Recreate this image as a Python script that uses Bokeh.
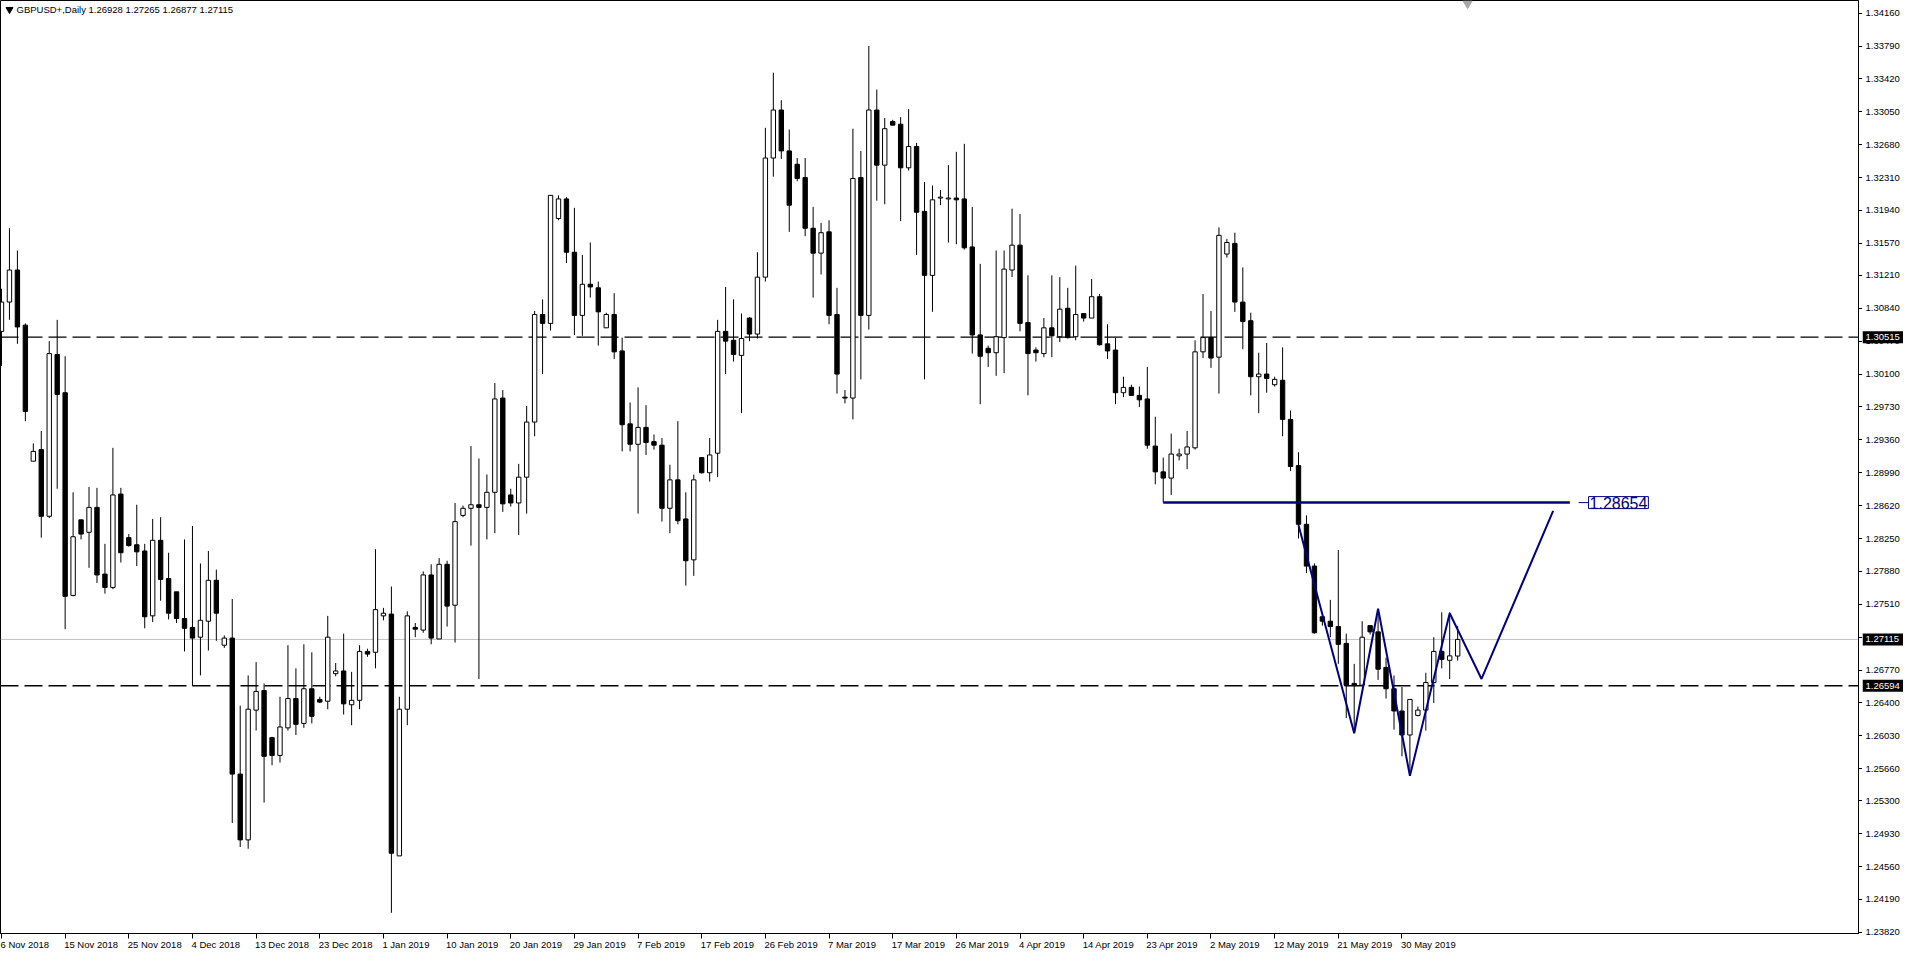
from bokeh.plotting import figure
from bokeh.layouts import row
from bokeh.models import (Range1d, FixedTicker, Label, ColumnDataSource, Span, LinearAxis)
from bokeh.embed import file_html
from bokeh.resources import INLINE
from bokeh.core.properties import value

# ---------------- data ----------------
title_text = "GBPUSD+,Daily  1.26928 1.27265 1.26877 1.27115"

opens = [1.3058, 1.3091, 1.3127, 1.3065, 1.2912, 1.2925, 1.2850, 1.3032, 1.2989, 1.2761,
         1.2846, 1.2832, 1.2860, 1.2785, 1.2770, 1.2875, 1.2826, 1.2818, 1.2811, 1.2738,
         1.2823, 1.2780, 1.2765, 1.2735, 1.2725, 1.2714, 1.2732, 1.2778, 1.2705, 1.2713,
         1.2560, 1.2486, 1.2632, 1.2654, 1.2601, 1.2581, 1.2612, 1.2645, 1.2617, 1.2656,
         1.2644, 1.2642, 1.2673, 1.2676, 1.2638, 1.2643, 1.2698, 1.2697, 1.2738, 1.2740,
         1.2468, 1.2633, 1.2725, 1.2722, 1.2784, 1.2712, 1.2796, 1.2750, 1.2851, 1.2859,
         1.2863, 1.2860, 1.2877, 1.2983, 1.2874, 1.2865, 1.2894, 1.2956, 1.3077, 1.3067,
         1.3185, 1.3207, 1.3147, 1.3076, 1.3111, 1.3107, 1.3062, 1.3077, 1.3036, 1.2954,
         1.2931, 1.2950, 1.2934, 1.2930, 1.2859, 1.2891, 1.2847, 1.2801, 1.2916, 1.2899,
         1.2921, 1.3058, 1.3048, 1.3031, 1.3073, 1.3055, 1.3119, 1.3253, 1.3307, 1.3261,
         1.3246, 1.3231, 1.3174, 1.3146, 1.3170, 1.3077, 1.2984, 1.2983, 1.3231, 1.3076,
         1.3307, 1.3245, 1.3294, 1.3291, 1.3242, 1.3266, 1.3193, 1.3121, 1.3208, 1.3207,
         1.3208, 1.3207, 1.3153, 1.3054, 1.3039, 1.3034, 1.3051, 1.3127, 1.3155, 1.3068,
         1.3037, 1.3033, 1.3062, 1.3052, 1.3084, 1.3052, 1.3078, 1.3073, 1.3097, 1.3044,
         1.3037, 1.2989, 1.2995, 1.2986, 1.2982, 1.2929, 1.2900, 1.2893, 1.2918, 1.2920,
         1.2927, 1.3035, 1.3051, 1.3029, 1.3145, 1.3157, 1.3091, 1.3070, 1.3007, 1.3010,
         1.2998, 1.3003, 1.2959, 1.2907, 1.2841, 1.2794, 1.2737, 1.2732, 1.2726, 1.2707,
         1.2662, 1.2660, 1.2727, 1.2720, 1.2680, 1.2656, 1.2631, 1.2604, 1.2626, 1.2632,
         1.2663, 1.2698, 1.2688, 1.26928]

highs = [1.3106, 1.3174, 1.3149, 1.3067, 1.2932, 1.2946, 1.3047, 1.3071, 1.3030, 1.2877,
         1.2846, 1.2883, 1.2882, 1.2819, 1.2927, 1.2882, 1.2830, 1.2863, 1.2819, 1.2847,
         1.2849, 1.2809, 1.2765, 1.2824, 1.2839, 1.2797, 1.2811, 1.2790, 1.2716, 1.2757,
         1.2637, 1.2671, 1.2686, 1.2662, 1.2602, 1.2647, 1.2705, 1.2679, 1.2706, 1.2697,
         1.2647, 1.2738, 1.2685, 1.2718, 1.2675, 1.2705, 1.2701, 1.2813, 1.2747, 1.2771,
         1.2647, 1.2743, 1.2730, 1.2788, 1.2796, 1.2803, 1.2800, 1.2865, 1.2862, 1.2929,
         1.2915, 1.2897, 1.3000, 1.2992, 1.2881, 1.2909, 1.2974, 1.3081, 1.3094, 1.3211,
         1.3211, 1.3209, 1.3197, 1.3144, 1.3158, 1.3114, 1.3079, 1.3101, 1.3051, 1.2978,
         1.2995, 1.2975, 1.2942, 1.2938, 1.2908, 1.2957, 1.2877, 1.2897, 1.2916, 1.2938,
         1.3071, 1.3108, 1.3094, 1.3078, 1.3074, 1.3147, 1.3287, 1.3349, 1.3318, 1.3285,
         1.3253, 1.3253, 1.3198, 1.3180, 1.3183, 1.3107, 1.2992, 1.3286, 1.3261, 1.3379,
         1.3330, 1.3298, 1.3296, 1.3299, 1.3308, 1.3270, 1.3226, 1.3222, 1.3217, 1.3245,
         1.3260, 1.3269, 1.3198, 1.3134, 1.3042, 1.3149, 1.3149, 1.3196, 1.3190, 1.3121,
         1.3040, 1.3073, 1.3121, 1.3119, 1.3107, 1.3132, 1.3078, 1.3117, 1.3100, 1.3066,
         1.3051, 1.3007, 1.2998, 1.2996, 1.3018, 1.2962, 1.2916, 1.2943, 1.2926, 1.2946,
         1.3048, 1.3100, 1.3081, 1.3175, 1.3162, 1.3169, 1.3130, 1.3079, 1.3034, 1.3045,
         1.3007, 1.3040, 1.2969, 1.2922, 1.2851, 1.2797, 1.2737, 1.2756, 1.2812, 1.2718,
         1.2684, 1.2732, 1.2727, 1.2743, 1.2691, 1.2671, 1.2658, 1.2644, 1.2636, 1.2674,
         1.2714, 1.2742, 1.2742, 1.27265]

lows = [1.3019, 1.3071, 1.3044, 1.2957, 1.2912, 1.2826, 1.2848, 1.2881, 1.2723, 1.2760,
        1.2824, 1.2792, 1.2775, 1.2763, 1.2768, 1.2798, 1.2816, 1.2794, 1.2724, 1.2731,
        1.2755, 1.2734, 1.2730, 1.2698, 1.2659, 1.2671, 1.2699, 1.2710, 1.2702, 1.2505,
        1.2478, 1.2476, 1.2609, 1.2528, 1.2570, 1.2573, 1.2609, 1.2604, 1.2612, 1.2617,
        1.2640, 1.2633, 1.2670, 1.2627, 1.2615, 1.2633, 1.2692, 1.2679, 1.2733, 1.2404,
        1.2468, 1.2615, 1.2714, 1.2719, 1.2706, 1.2712, 1.2726, 1.2708, 1.2849, 1.2817,
        1.2667, 1.2824, 1.2831, 1.2855, 1.2861, 1.2829, 1.2853, 1.2940, 1.3010, 1.3059,
        1.3183, 1.3135, 1.3054, 1.3053, 1.3096, 1.3042, 1.3062, 1.3027, 1.2923, 1.2923,
        1.2853, 1.2919, 1.2925, 1.2844, 1.2831, 1.2841, 1.2772, 1.2783, 1.2898, 1.2889,
        1.2894, 1.3010, 1.3024, 1.2966, 1.3047, 1.3050, 1.3114, 1.3232, 1.3252, 1.3170,
        1.3227, 1.3165, 1.3096, 1.3122, 1.3066, 1.2988, 1.2977, 1.2959, 1.3004, 1.3060,
        1.3205, 1.3201, 1.3290, 1.3182, 1.3239, 1.3144, 1.3004, 1.3080, 1.3200, 1.3158,
        1.3156, 1.3150, 1.3033, 1.2976, 1.3018, 1.3008, 1.3011, 1.3119, 1.3058, 1.2986,
        1.3024, 1.3029, 1.3029, 1.3046, 1.3050, 1.3048, 1.3069, 1.3073, 1.3042, 1.3027,
        1.2976, 1.2984, 1.2986, 1.2973, 1.2926, 1.2886, 1.28654, 1.2874, 1.2913, 1.2903,
        1.2925, 1.3028, 1.3017, 1.2988, 1.3141, 1.3080, 1.3038, 1.2986, 1.2966, 1.2989,
        1.2996, 1.2940, 1.2901, 1.2825, 1.2786, 1.2718, 1.2727, 1.2714, 1.2684, 1.2623,
        1.2607, 1.2660, 1.2717, 1.2666, 1.2645, 1.2610, 1.2580, 1.2558, 1.2625, 1.2609,
        1.2640, 1.2679, 1.2667, 1.26877]

closes = [1.3091, 1.3127, 1.3063, 1.2968, 1.2923, 1.2850, 1.3033, 1.2987, 1.2760, 1.2827,
          1.2830, 1.2860, 1.2784, 1.2770, 1.2874, 1.2809, 1.2817, 1.2810, 1.2737, 1.2823,
          1.2779, 1.2741, 1.2735, 1.2724, 1.2713, 1.2733, 1.2778, 1.2741, 1.2713, 1.2560,
          1.2486, 1.2633, 1.2653, 1.2580, 1.2581, 1.2613, 1.2645, 1.2616, 1.2656, 1.2625,
          1.2641, 1.2714, 1.2676, 1.2639, 1.2643, 1.2698, 1.2695, 1.2745, 1.2741, 1.2471,
          1.2633, 1.2738, 1.2723, 1.2784, 1.2713, 1.2796, 1.2749, 1.2844, 1.2859, 1.2863,
          1.2860, 1.2877, 1.2982, 1.2864, 1.2865, 1.2894, 1.2956, 1.3077, 1.3067, 1.3211,
          1.3207, 1.3147, 1.3076, 1.3111, 1.3108, 1.3080, 1.3077, 1.3035, 1.2953, 1.2931,
          1.2950, 1.2933, 1.2930, 1.2859, 1.2891, 1.2845, 1.2800, 1.2891, 1.2899, 1.2919,
          1.3058, 1.3047, 1.3032, 1.3050, 1.3055, 1.3119, 1.3253, 1.3307, 1.3261, 1.3200,
          1.3230, 1.3174, 1.3146, 1.3169, 1.3076, 1.3010, 1.2983, 1.3230, 1.3076, 1.3307,
          1.3245, 1.3286, 1.3290, 1.3242, 1.3266, 1.3192, 1.3121, 1.3206, 1.3209, 1.3208,
          1.3206, 1.3152, 1.3054, 1.3030, 1.3034, 1.3052, 1.3128, 1.3155, 1.3067, 1.3033,
          1.3034, 1.3062, 1.3053, 1.3083, 1.3051, 1.3077, 1.3073, 1.3097, 1.3043, 1.3036,
          1.2989, 1.2995, 1.2986, 1.2981, 1.2930, 1.2900, 1.2893, 1.2920, 1.2920, 1.2928,
          1.3035, 1.3051, 1.3028, 1.3166, 1.3158, 1.3091, 1.3069, 1.3007, 1.3010, 1.3005,
          1.3004, 1.2959, 1.2906, 1.2841, 1.2794, 1.2719, 1.2732, 1.2726, 1.2706, 1.2660,
          1.2660, 1.2714, 1.2720, 1.2678, 1.2656, 1.2631, 1.2604, 1.2644, 1.2632, 1.2663,
          1.2698, 1.2689, 1.2693, 1.27115]

date_ticks = [0, 8, 16, 24, 32, 40, 48, 56, 64, 72, 80, 88, 96, 104, 112, 120, 128,
              136, 144, 152, 160, 168, 176]
date_labels = ["6 Nov 2018", "15 Nov 2018", "25 Nov 2018", "4 Dec 2018", "13 Dec 2018",
               "23 Dec 2018", "1 Jan 2019", "10 Jan 2019", "20 Jan 2019", "29 Jan 2019",
               "7 Feb 2019", "17 Feb 2019", "26 Feb 2019", "7 Mar 2019", "17 Mar 2019",
               "26 Mar 2019", "4 Apr 2019", "14 Apr 2019", "23 Apr 2019", "2 May 2019",
               "12 May 2019", "21 May 2019", "30 May 2019"]

price_ticks = [1.34160, 1.33790, 1.33420, 1.33050, 1.32680, 1.32310, 1.31940, 1.31570,
               1.31210, 1.30840, 1.30470, 1.30100, 1.29730, 1.29360, 1.28990, 1.28620,
               1.28250, 1.27880, 1.27510, 1.27140, 1.26770, 1.26400, 1.26030, 1.25660,
               1.25300, 1.24930, 1.24560, 1.24190, 1.23820]

resistance_level = 1.30515
support_level = 1.26594
current_price = 1.27115
neckline_level = 1.28654
neckline_bars = [146, 197.1]
pattern_bars = [163, 170, 173, 177, 182, 186, 195]
pattern_prices = [1.2840, 1.2606, 1.2746, 1.2558, 1.2741, 1.2667, 1.2856]

# ---------------- layout ----------------
FW, FH = 1858, 933          # main plotting frame (px)
SW = 41                     # price-scale strip width (px)
SB = 15                     # strip extends below the frame by this much (px)
X0, X1 = -0.125, 233.375
Y0, Y1 = 1.23807, 1.34302
PX = (X1 - X0) / FW
PY = (Y1 - Y0) / FH

FONT = "Liberation Sans"
FS = "9.5px"
NAVY = "#000080"

p = figure(frame_width=FW, frame_height=FH,
           x_range=Range1d(X0, X1), y_range=Range1d(Y0, Y1),
           output_backend="svg", toolbar_location=None, y_axis_location="right",
           min_border_left=0, min_border_top=0, min_border_right=0, min_border_bottom=0,
           background_fill_color="white", border_fill_color="white")
p.grid.visible = False
p.outline_line_color = "black"
p.outline_line_width = 1

# bottom axis 1: tick marks at the dated bars
p.xaxis.ticker = FixedTicker(ticks=date_ticks)
p.xaxis.major_label_overrides = {t: "" for t in date_ticks}
p.xaxis.major_label_text_font_size = "0px"
p.xaxis.major_label_standoff = 0
p.xaxis.major_tick_out = 5
p.xaxis.major_tick_in = 0
p.xaxis.minor_tick_line_color = None
p.xaxis.axis_line_color = "black"
p.xaxis.major_tick_line_color = "black"

# bottom axis 2: date labels, left-aligned at their ticks
CW = {c: 0.556 for c in "0123456789abdegnopqu"}
CW.update({" ": 0.278, "N": 0.722, "D": 0.722, "F": 0.611, "J": 0.5, "M": 0.833,
           "A": 0.667, "v": 0.5, "c": 0.5, "r": 0.333, "y": 0.5})
fs = float(FS[:-2])
label_pos, overrides = [], {}
for t, lab in zip(date_ticks, date_labels):
    w = sum(CW.get(ch, 0.556) for ch in lab) * fs
    pos = round(t + (w / 2 - 1) * PX, 3)
    if pos == int(pos):
        pos += 0.001
    label_pos.append(pos)
    overrides[pos] = lab
xlab = LinearAxis(ticker=FixedTicker(ticks=label_pos), major_label_overrides=overrides,
                  major_tick_out=0, major_tick_in=0, major_tick_line_color=None,
                  minor_tick_line_color=None, axis_line_color=None,
                  major_label_standoff=0, major_label_text_font=FONT,
                  major_label_text_font_size=FS, major_label_text_color="black")
p.add_layout(xlab, "below")

# right axis: tick marks only (labels drawn in the price strip)
p.yaxis.ticker = FixedTicker(ticks=price_ticks)
p.yaxis.major_label_overrides = {v: "" for v in price_ticks}
p.yaxis.major_label_text_font_size = "0px"
p.yaxis.major_label_standoff = 0
p.yaxis.major_tick_out = 4
p.yaxis.major_tick_in = 0
p.yaxis.minor_tick_line_color = None
p.yaxis.axis_line_color = "black"
p.yaxis.major_tick_line_color = "black"

# horizontal levels
for lvl, col, dash, lw in [(resistance_level, "black", "18 6", 1.4),
                           (support_level, "black", "18 6", 1.4),
                           (current_price, "#c0c0c0", "solid", 1)]:
    p.add_layout(Span(location=lvl, dimension="width", line_color=col,
                      line_width=lw, line_dash=dash, level="underlay"))

# candles
n = len(opens)
idx = list(range(n))
tops = [max(o, c) for o, c in zip(opens, closes)]
bots = [min(o, c) for o, c in zip(opens, closes)]
fills = ["white" if c >= o else "black" for o, c in zip(opens, closes)]
src = ColumnDataSource(dict(x=idx, h=highs, l=lows, top=tops, bottom=bots, fill=fills))
p.segment(x0="x", y0="h", x1="x", y1="l", source=src, line_color="black", line_width=1)
p.vbar(x="x", width=0.55, top="top", bottom="bottom", source=src,
       fill_color="fill", line_color="black", line_width=1)

# drawn pattern
p.line(pattern_bars, pattern_prices, line_color=NAVY, line_width=2)
p.segment(x0=[neckline_bars[0]], y0=[neckline_level], x1=[neckline_bars[1]],
          y1=[neckline_level], line_color=NAVY, line_width=2.5)
p.segment(x0=[neckline_bars[1] + 1.1], y0=[neckline_level], x1=[neckline_bars[1] + 2.3],
          y1=[neckline_level], line_color=NAVY, line_width=1)
p.add_layout(Label(x=neckline_bars[1] + 2.35, y=neckline_level, text=f"{neckline_level:.5f}",
                   text_font=FONT, text_font_size="16px", text_color=NAVY,
                   text_align="left", text_baseline="middle",
                   background_fill_color="white", border_line_color=NAVY,
                   border_line_width=1, padding=dict(left=1, right=1, top=0, bottom=0)))

# title
p.scatter(x=[X0 + 9 * PX], y=[Y1 - 9 * PY], marker="inverted_triangle", size=7,
          fill_color="black", line_color="black")
p.add_layout(Label(x=X0 + 16 * PX, y=Y1 - 9 * PY, text=title_text, text_font=FONT,
                   text_font_size=FS, text_color="black", text_baseline="middle",
                   text_align="left"))

# shift marker at top
p.scatter(x=[184.25], y=[Y1 - 3 * PY], marker="inverted_triangle", size=9,
          fill_color="#a8a8a8", line_color="#a8a8a8")

# ---------------- price scale strip (same vertical scale) ----------------
s = figure(frame_width=SW, frame_height=FH + SB, x_range=Range1d(0, SW),
           y_range=Range1d(Y0 - SB * PY, Y1),
           output_backend="svg", toolbar_location=None,
           x_axis_location=None, y_axis_location=None,
           min_border_left=0, min_border_top=0, min_border_right=0, min_border_bottom=0,
           background_fill_color="white", border_fill_color="white")
s.grid.visible = False
s.outline_line_color = None
s.text(x=[3] * len(price_ticks), y=price_ticks, text=[f"{v:.5f}" for v in price_ticks],
       text_font=value(FONT), text_font_size=value(FS), text_color="black",
       text_align="left", text_baseline="middle")
markers = [resistance_level, current_price, support_level]
s.rect(x=[SW / 2] * 3, y=markers, width=SW, height=12, height_units="screen",
       fill_color="black", line_color=None)
s.text(x=[3] * 3, y=markers, text=[f"{v:.5f}" for v in markers],
       text_font=value(FONT), text_font_size=value(FS), text_color="white",
       text_align="left", text_baseline="middle")

layout = row(p, s)
open("out.html", "w").write(file_html(layout, INLINE))
